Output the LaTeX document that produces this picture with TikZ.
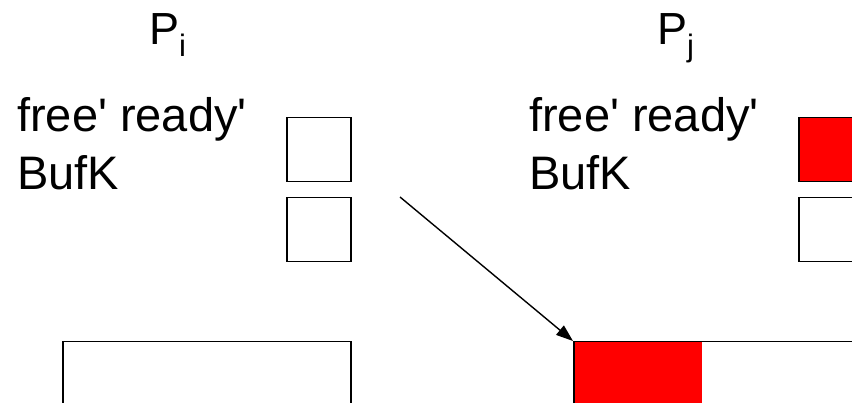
\documentclass[tikz,border=0pt]{standalone}
\usepackage{fontspec}
\setmainfont{Liberation Sans}
\usetikzlibrary{arrows.meta}
\definecolor{bufred}{RGB}{255,0,0}
\begin{document}
\begin{tikzpicture}[x=1pt,y=-1pt,
  lbl/.style={anchor=base west,inner sep=0pt,font=\fontsize{47}{52}\selectfont},
  ttl/.style={anchor=base west,inner sep=0pt,font=\fontsize{45}{50}\selectfont},
  sq/.style={draw,line width=1.5pt,minimum width=64pt,minimum height=64pt,inner sep=0pt,anchor=north west},
  big/.style={draw,line width=1.5pt,inner sep=0pt,anchor=north west},
  arr/.style={line width=1.4pt,-{Triangle[length=17pt,width=12pt]}}]
\useasboundingbox (0,0) rectangle (852,403);
\clip (0,0) rectangle (852,403);
% titles
\node[ttl] (pi) at (149,45) {P\raisebox{-12pt}{\fontsize{31}{31}\selectfont i}};
\node[ttl] (pj) at (657,45) {P\raisebox{-12pt}{\fontsize{31}{31}\selectfont j}};
% labels
\node[lbl] (li1) at (17,132) {free\textquotesingle{} ready\textquotesingle};
\node[lbl] (li2) at (17,190) {BufK};
\node[lbl] (lj1) at (529,132) {free\textquotesingle{} ready\textquotesingle};
\node[lbl] (lj2) at (529,190) {BufK};
% small boxes
\node[sq] (fi) at (286,117) {};
\node[sq] (ri) at (286,197) {};
\node[sq,fill=bufred] (fj) at (798,117) {};
\node[sq] (rj) at (798,197) {};
% big buffers
\node[big,minimum width=288pt,minimum height=100pt] (bi) at (62,341) {};
\fill[bufred] (573,341) rectangle (702,420);
\node[big,minimum width=320pt,minimum height=100pt] (bj) at (573,341) {};
% arrow
\coordinate (src) at (400,197);
\draw[arr] (src) -- (bj.north west);
\end{tikzpicture}
\end{document}
